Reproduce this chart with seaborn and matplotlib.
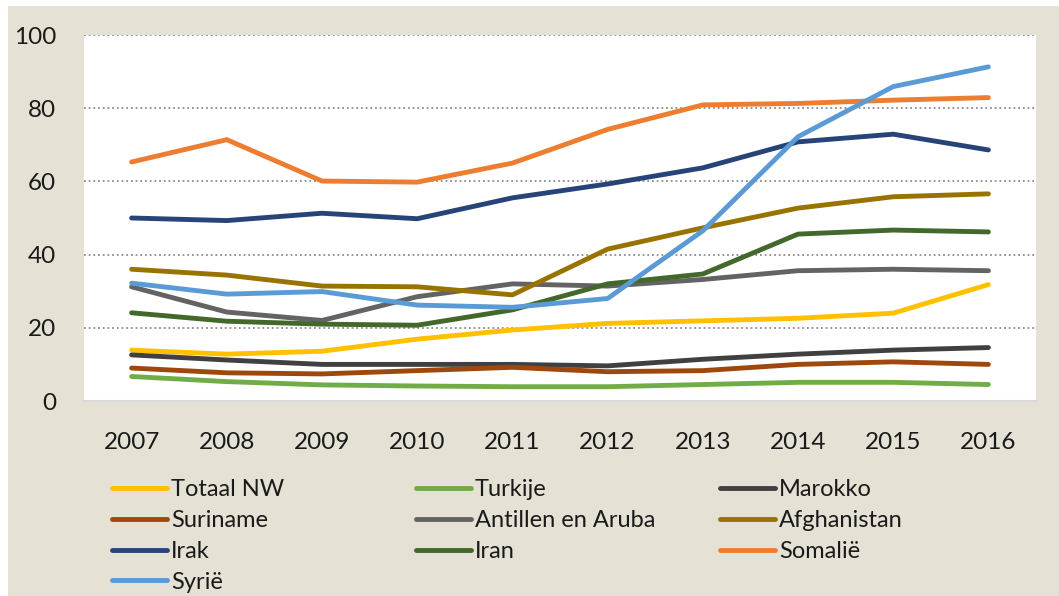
import numpy as np
import pandas as pd
import matplotlib
matplotlib.use("Agg")
import matplotlib.pyplot as plt
from matplotlib.patches import Rectangle
import seaborn as sns

years = [2007, 2008, 2009, 2010, 2011, 2012, 2013, 2014, 2015, 2016]

totaal_nw = [13.9, 12.8, 13.6, 16.9, 19.4, 21.2, 21.9, 22.6, 24.0, 31.8]
turkije = [6.7, 5.3, 4.4, 4.1, 3.9, 3.9, 4.5, 5.1, 5.1, 4.5]
marokko = [12.6, 11.2, 10.0, 10.0, 10.0, 9.6, 11.4, 12.8, 13.9, 14.6]
suriname = [9.0, 7.7, 7.4, 8.3, 9.2, 8.0, 8.3, 10.0, 10.7, 10.0]
antillen = [31.2, 24.3, 22.0, 28.5, 32.0, 31.4, 33.2, 35.6, 36.0, 35.6]
afghanistan = [36.0, 34.4, 31.4, 31.2, 29.0, 41.5, 47.3, 52.7, 55.8, 56.6]
irak = [50.0, 49.3, 51.3, 49.8, 55.5, 59.3, 63.7, 70.8, 72.9, 68.6]
iran = [24.1, 21.8, 21.0, 20.7, 24.9, 32.0, 34.7, 45.6, 46.7, 46.2]
somalie = [65.3, 71.4, 60.1, 59.8, 65.0, 74.2, 80.9, 81.3, 82.2, 82.9]
syrie = [32.2, 29.2, 29.9, 26.2, 25.6, 28.0, 46.5, 72.2, 85.9, 91.3]

series = {
    "Totaal NW": totaal_nw,
    "Turkije": turkije,
    "Marokko": marokko,
    "Suriname": suriname,
    "Antillen en Aruba": antillen,
    "Afghanistan": afghanistan,
    "Irak": irak,
    "Iran": iran,
    "Somalië": somalie,
    "Syrië": syrie,
}
colors = {
    "Totaal NW": "#FFC000",
    "Turkije": "#70AD47",
    "Marokko": "#404040",
    "Suriname": "#9E480E",
    "Antillen en Aruba": "#636363",
    "Afghanistan": "#997300",
    "Irak": "#264478",
    "Iran": "#43682B",
    "Somalië": "#ED7D31",
    "Syrië": "#5B9BD5",
}
names = list(series.keys())

df = pd.DataFrame(
    [(name, y, v) for name, vals in series.items() for y, v in zip(years, vals)],
    columns=["group", "year", "value"],
)

sns.set_theme(style="white")
plt.rcParams["font.family"] = ["Lato", "DejaVu Sans"]

beige = "#E5E2D5"
fig = plt.figure(figsize=(10.59, 5.96), dpi=100, facecolor="white")
fig.patches.append(Rectangle((8 / 1059, 0), 1, 1 - 6 / 596, transform=fig.transFigure,
                             facecolor=beige, edgecolor="none", zorder=-10))
ax = fig.add_axes([84 / 1059, 1 - 401 / 596, (1036 - 84) / 1059, (401 - 35) / 596])
ax.set_facecolor("white")

sns.lineplot(data=df, x="year", y="value", hue="group", hue_order=names,
             palette=colors, linewidth=3.5, ax=ax, legend=True)
for line in ax.lines:
    line.set_solid_capstyle("round")
    line.set_solid_joinstyle("round")

handles, labels = ax.get_legend_handles_labels()
ax.get_legend().remove()
for h in handles:
    h.set_linewidth(3.5)
    h.set_solid_capstyle("round")

ax.set_xlim(2006.5, 2016.5)
ax.set_ylim(0, 100)
ax.set_xticks(years)
ax.set_yticks([0, 20, 40, 60, 80, 100])
ax.set_xlabel("")
ax.set_ylabel("")
ax.tick_params(axis="both", length=0, labelsize=17.5, colors="#1a1a1a")
ax.tick_params(axis="y", pad=20)
ax.tick_params(axis="x", pad=22)

ax.yaxis.grid(True, color="#8C8C8C", linestyle=(0, (1, 1.6)), linewidth=1.3)
ax.set_axisbelow(True)
ax.yaxis.get_gridlines()[0].set_visible(False)
for side in ["top", "right", "left"]:
    ax.spines[side].set_visible(False)
ax.spines["bottom"].set_color("#D9D9D9")
ax.spines["bottom"].set_linewidth(1.5)

# legend laid out row by row in three columns
lookup = dict(zip(labels, handles))
col_x = [112 / 1059, 416 / 1059, 720 / 1059]
for c, x0 in enumerate(col_x):
    col_names = names[c::3]
    leg = fig.legend([lookup[n] for n in col_names], col_names,
                     loc="upper left", bbox_to_anchor=(x0, 1 - 479 / 596),
                     frameon=False, fontsize=17, handlelength=2.35, handletextpad=0.15,
                     labelspacing=0.42, borderaxespad=0, borderpad=0)
    for t in leg.get_texts():
        t.set_color("#1a1a1a")

fig.savefig("out.png", dpi=100, facecolor=fig.get_facecolor())
